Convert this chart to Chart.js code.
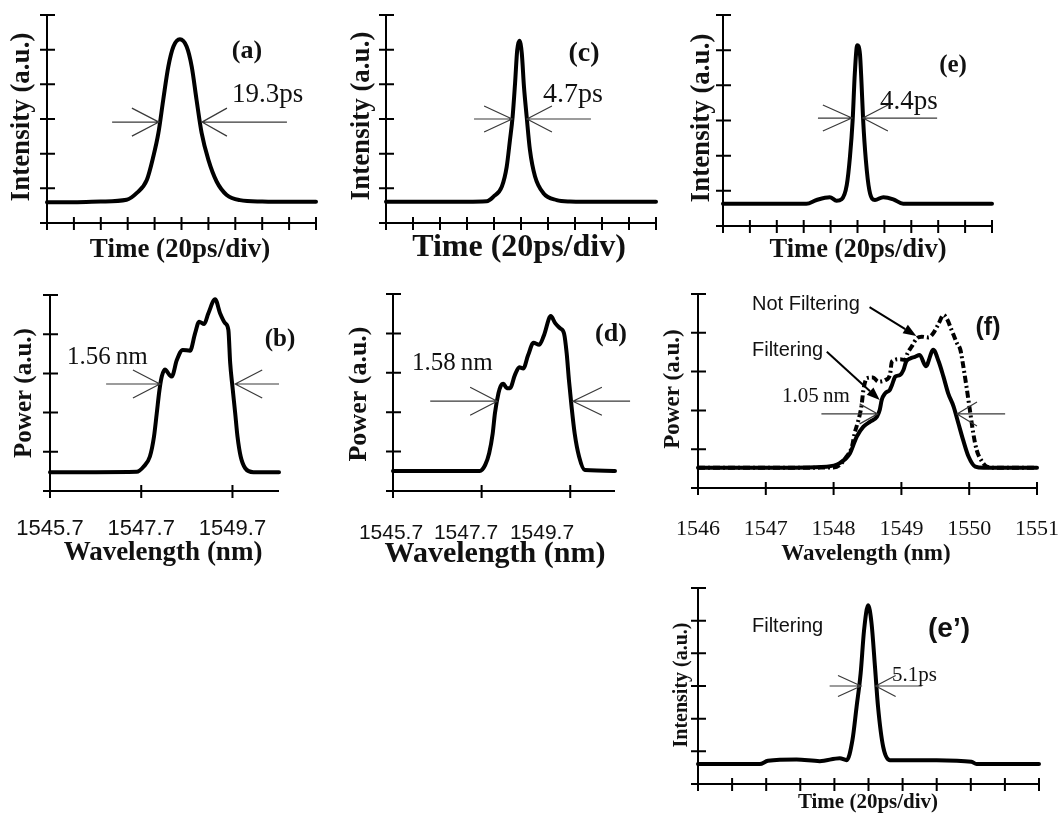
<!DOCTYPE html>
<html><head><meta charset="utf-8">
<script src="https://cdn.jsdelivr.net/npm/chart.js@4.4.1/dist/chart.umd.min.js"></script>
<style>
html,body{margin:0;padding:0;background:#fff;}
#fig{position:relative;width:1061px;height:813px;overflow:hidden;background:#fff;}
#fig canvas{position:absolute;left:0;top:0;}
</style></head><body><div id="fig"></div>
<script>
// ---------- DATA ----------
// time axes in divisions (20 ps/div), intensity in a.u.
const timeTicks = [0,1,2,3,4,5,6,7,8,9,10];
const intensityTicks = [0,1,2,3,4,5,6];
const powerTicks = [0,1,2,3,4,5];

const aTime = [0, 1, 2, 2.96, 3.33, 3.71, 3.95, 4.14, 4.32, 4.51, 4.7, 4.94, 5.19, 5.38, 5.56, 5.75, 6.0, 6.31, 6.68, 7.17, 8, 9, 10];
const aIntensity = [0.6, 0.6, 0.62, 0.67, 0.86, 1.24, 1.91, 2.59, 3.55, 4.51, 5.09, 5.3, 5.09, 4.51, 3.55, 2.59, 1.82, 1.19, 0.81, 0.66, 0.62, 0.61, 0.61];

const cTime = [0, 2, 3.73, 3.98, 4.29, 4.47, 4.59, 4.69, 4.78, 4.86, 4.94, 5.03, 5.11, 5.21, 5.33, 5.52, 5.83, 6.32, 6.81, 8, 10];
const cIntensity = [0.61, 0.61, 0.63, 0.76, 1.05, 1.62, 2.39, 3.07, 4.03, 4.99, 5.26, 4.89, 3.93, 3.07, 2.11, 1.34, 0.86, 0.66, 0.62, 0.61, 0.61];

const eTime = [0, 2, 3.1, 3.48, 3.97, 4.22, 4.41, 4.6, 4.72, 4.82, 4.9, 4.99, 5.09, 5.15, 5.21, 5.31, 5.44, 5.65, 5.96, 6.33, 6.7, 8, 10];
const eIntensity = [0.63, 0.63, 0.63, 0.74, 0.82, 0.72, 0.76, 1.16, 1.97, 3.01, 4.34, 5.14, 4.9, 4.05, 3.01, 1.88, 1.02, 0.74, 0.82, 0.76, 0.63, 0.63, 0.63];

const ePrimeTime = [0, 1.81, 2.05, 2.89, 3.57, 4.16, 4.36, 4.53, 4.65, 4.77, 4.87, 4.99, 5.09, 5.19, 5.28, 5.43, 5.63, 6.02, 7.0, 8.02, 8.17, 10];
const ePrimeIntensity = [0.61, 0.61, 0.71, 0.75, 0.70, 0.79, 0.73, 1.35, 2.36, 3.39, 4.71, 5.47, 4.91, 3.59, 2.36, 1.14, 0.73, 0.73, 0.73, 0.68, 0.61, 0.61];

// spectra, wavelength in nm
const bdTicks = [1545.7, 1547.7, 1549.7];
const bdTickLabels = ['1545.7', '1547.7', '1549.7'];
const fTicks = [1546, 1547, 1548, 1549, 1550, 1551];
const fTickLabels = ['1546', '1547', '1548', '1549', '1550', '1551'];

const bWavelength = [1545.7, 1546.7, 1547.6, 1547.75, 1547.89, 1547.98, 1548.04, 1548.1, 1548.15, 1548.22, 1548.32, 1548.37, 1548.48, 1548.61, 1548.77, 1548.88, 1548.97, 1549.08, 1549.17, 1549.32, 1549.43, 1549.54, 1549.61, 1549.65, 1549.7, 1549.76, 1549.81, 1549.88, 1549.98, 1550.16, 1550.72];
const bPower = [0.48, 0.48, 0.49, 0.62, 0.88, 1.39, 1.98, 2.58, 2.92, 3.1, 2.96, 2.92, 3.34, 3.6, 3.58, 4.02, 4.32, 4.26, 4.53, 4.89, 4.53, 4.28, 4.11, 3.26, 2.66, 1.98, 1.39, 0.88, 0.58, 0.48, 0.48];

const dWavelength = [1545.7, 1546.7, 1547.66, 1547.78, 1547.87, 1547.95, 1548.0, 1548.08, 1548.13, 1548.19, 1548.27, 1548.34, 1548.45, 1548.55, 1548.64, 1548.75, 1548.87, 1549.0, 1549.11, 1549.26, 1549.36, 1549.47, 1549.56, 1549.62, 1549.67, 1549.73, 1549.8, 1549.9, 1550.03, 1550.71];
const dPower = [0.51, 0.51, 0.51, 0.66, 0.96, 1.46, 1.97, 2.48, 2.66, 2.72, 2.61, 2.61, 2.94, 3.14, 3.11, 3.45, 3.76, 3.71, 3.96, 4.44, 4.26, 4.13, 4.0, 3.49, 2.82, 2.14, 1.46, 0.87, 0.53, 0.51];

const fWavelength = [1546, 1547, 1547.9, 1548.09, 1548.24, 1548.34, 1548.44, 1548.54, 1548.64, 1548.68, 1548.71, 1548.76, 1548.83, 1548.86, 1548.91, 1548.98, 1549.03, 1549.07, 1549.13, 1549.2, 1549.27, 1549.36, 1549.47, 1549.55, 1549.62, 1549.69, 1549.77, 1549.84, 1549.91, 1549.99, 1550.09, 1550.21, 1551];
const fFiltering = [0.52, 0.52, 0.55, 0.64, 0.89, 1.32, 1.58, 1.71, 1.84, 2.01, 2.27, 2.44, 2.53, 2.65, 2.87, 2.91, 3.04, 3.26, 3.34, 3.38, 3.43, 3.14, 3.56, 3.26, 2.87, 2.44, 2.1, 1.67, 1.24, 0.81, 0.55, 0.52, 0.52];

const fWavelengthNF = [1546, 1547, 1548.0, 1548.09, 1548.19, 1548.27, 1548.31, 1548.36, 1548.41, 1548.44, 1548.49, 1548.58, 1548.66, 1548.76, 1548.83, 1548.86, 1548.98, 1549.05, 1549.09, 1549.15, 1549.23, 1549.3, 1549.4, 1549.47, 1549.55, 1549.62, 1549.68, 1549.74, 1549.82, 1549.87, 1549.91, 1549.96, 1550.01, 1550.06, 1550.11, 1550.19, 1550.26, 1550.4, 1551];
const fNotFiltering = [0.52, 0.52, 0.53, 0.59, 0.81, 1.06, 1.41, 1.71, 2.1, 2.53, 2.83, 2.85, 2.74, 2.78, 2.91, 3.26, 3.32, 3.3, 3.47, 3.64, 3.86, 3.9, 3.88, 3.99, 4.24, 4.46, 4.33, 4.07, 3.73, 3.56, 3.17, 2.61, 2.01, 1.41, 0.98, 0.68, 0.55, 0.52, 0.52];

// ---------- LAYOUT / STYLE ----------
const SERIF = '"Liberation Serif","Times New Roman",Times,serif';
const SANS = '"Liberation Sans",Arial,Helvetica,sans-serif';
const W = 1061, H = 813;
const R = -Math.PI / 2;

const panels = [
  { id:'a', box:{l:47,r:316,t:15,b:223}, x:[0,10], y:[0,6], xTicks:timeTicks, yTicks:intensityTicks,
    series:[{x:aTime, y:aIntensity}],
    fwhm:{y:2.91, xl:4.16, xr:5.76, x0:2.42, x1:8.92, dl:[27,14], dr:[25,14]},
    texts:[
      {t:'(a)', x:247, y:51, f:'bold 26px '+SERIF},
      {t:'19.3ps', x:232, y:95, a:'left', f:'27px '+SERIF},
      {t:'Intensity (a.u.)', x:22, y:117, rot:R, f:'bold 27px '+SERIF},
      {t:'Time (20ps/div)', x:180, y:250, f:'bold 27px '+SERIF}
    ]},
  { id:'c', box:{l:386,r:656,t:15,b:223}, x:[0,10], y:[0,6], xTicks:timeTicks, yTicks:intensityTicks,
    series:[{x:cTime, y:cIntensity}],
    fwhm:{y:3.0, xl:4.67, xr:5.22, x0:3.26, x1:7.59, dl:[28,13], dr:[25,13]},
    texts:[
      {t:'(c)', x:584, y:54, f:'bold 28px '+SERIF},
      {t:'4.7ps', x:543, y:95, a:'left', f:'28px '+SERIF},
      {t:'Intensity (a.u.)', x:362, y:116, rot:R, f:'bold 27px '+SERIF},
      {t:'Time (20ps/div)', x:519, y:248, f:'bold 32px '+SERIF}
    ]},
  { id:'e', box:{l:723,r:992,t:15,b:226}, x:[0,10], y:[0,6], xTicks:timeTicks, yTicks:intensityTicks,
    series:[{x:eTime, y:eIntensity}],
    fwhm:{y:3.07, xl:4.79, xr:5.2, x0:3.53, x1:7.96, dl:[29,13], dr:[25,13]},
    texts:[
      {t:'(e)', x:953, y:66, f:'bold 25px '+SERIF},
      {t:'4.4ps', x:880, y:102, a:'left', f:'27px '+SERIF},
      {t:'Intensity (a.u.)', x:702, y:118, rot:R, f:'bold 27px '+SERIF},
      {t:'Time (20ps/div)', x:858, y:250, f:'bold 26.5px '+SERIF}
    ]},
  { id:'b', box:{l:50,r:279,t:295,b:491}, x:[1545.7,1550.72], y:[0,5], xTicks:bdTicks, yTicks:powerTicks,
    series:[{x:bWavelength, y:bPower}],
    tickLabels:{labels:bdTickLabels, y:529, f:'22px '+SANS},
    fwhm:{y:2.73, xl:1548.11, xr:1549.76, x0:1546.93, x1:1550.72, dl:[27,14], dr:[27,14]},
    texts:[
      {t:'(b)', x:280, y:340, f:'bold 25px '+SERIF},
      {t:'1.56\u2009nm', x:67, y:357, a:'left', f:'25px '+SERIF},
      {t:'Power (a.u.)', x:25, y:393, rot:R, f:'bold 25px '+SERIF},
      {t:'Wavelength (nm)', x:163, y:553, f:'bold 27px '+SERIF}
    ]},
  { id:'d', box:{l:393,r:615,t:294,b:491}, x:[1545.7,1550.71], y:[0,5], xTicks:bdTicks, yTicks:powerTicks,
    series:[{x:dWavelength, y:dPower}],
    tickLabels:{labels:bdTickLabels, px:[391,466,542], y:533, f:'21px '+SANS},
    fwhm:{y:2.28, xl:1548.05, xr:1549.76, x0:1546.54, x1:1551.05, dl:[27,14], dr:[29,14]},
    texts:[
      {t:'(d)', x:611, y:334, f:'bold 26px '+SERIF},
      {t:'1.58\u2009nm', x:412, y:363, a:'left', f:'25px '+SERIF},
      {t:'Power (a.u.)', x:359, y:394, rot:R, f:'bold 26px '+SERIF},
      {t:'Wavelength (nm)', x:495, y:554, f:'bold 30px '+SERIF}
    ]},
  { id:'f', box:{l:698,r:1037,t:294,b:488}, x:[1546,1551], y:[0,5], xTicks:fTicks, yTicks:powerTicks,
    series:[{x:fWavelengthNF, y:fNotFiltering, dash:[7,3,2,3]}, {x:fWavelength, y:fFiltering}],
    tickLabels:{labels:fTickLabels, y:529, f:'22px '+SERIF},
    fwhm:{y:1.91, xl:1548.65, xr:1549.82, x0:1547.82, x1:1550.53, dl:[18,10], dr:[20,12]},
    arrows:[
      {from:[1548.53,4.66], to:[1549.22,3.92]},
      {from:[1547.9,3.51], to:[1548.68,2.27]}
    ],
    texts:[
      {t:'(f)', x:988, y:328, f:'bold 25px '+SANS},
      {t:'Not Filtering', x:752, y:304, a:'left', f:'20px '+SANS},
      {t:'Filtering', x:752, y:350, a:'left', f:'20px '+SANS},
      {t:'1.05\u2009nm', x:782, y:396, a:'left', f:'21px '+SERIF},
      {t:'Power (a.u.)', x:673, y:389, rot:R, f:'bold 23px '+SERIF},
      {t:'Wavelength (nm)', x:866, y:554, f:'bold 23px '+SERIF}
    ]},
  { id:'ep', box:{l:698,r:1039,t:588,b:784}, x:[0,10], y:[0,6], xTicks:timeTicks, yTicks:intensityTicks,
    series:[{x:ePrimeTime, y:ePrimeIntensity}],
    fwhm:{y:3.0, xl:4.78, xr:5.21, x0:3.86, x1:6.56, dl:[23,10.5], dr:[20,10.5]},
    texts:[
      {t:'(e\u2019)', x:928, y:629, a:'left', f:'bold 28px '+SANS},
      {t:'Filtering', x:752, y:626, a:'left', f:'20px '+SANS},
      {t:'5.1ps', x:892, y:675, a:'left', f:'21px '+SERIF},
      {t:'Intensity (a.u.)', x:682, y:685, rot:R, f:'bold 20px '+SERIF},
      {t:'Time (20ps/div)', x:868, y:803, f:'bold 21px '+SERIF}
    ]}
];

function drawText(ctx, s) {
  ctx.save();
  ctx.font = s.f;
  ctx.fillStyle = '#111';
  ctx.textAlign = s.a || 'center';
  ctx.textBaseline = 'middle';
  ctx.translate(s.x, s.y);
  if (s.rot) ctx.rotate(s.rot);
  ctx.fillText(s.t, 0, 0);
  ctx.restore();
}

function makePlugin(p) {
  return {
    id: 'fig_' + p.id,
    beforeDatasetsDraw(chart) {
      const ctx = chart.ctx, a = chart.chartArea;
      const sx = chart.scales.x, sy = chart.scales.y;
      ctx.save();
      ctx.strokeStyle = '#000';
      ctx.lineWidth = 2;
      ctx.lineCap = 'butt';
      ctx.beginPath();
      ctx.moveTo(a.left, a.top); ctx.lineTo(a.left, a.bottom);
      ctx.moveTo(a.left, a.bottom); ctx.lineTo(a.right, a.bottom);
      p.xTicks.forEach(v => {
        const px = sx.getPixelForValue(v);
        ctx.moveTo(px, a.bottom - 6); ctx.lineTo(px, a.bottom + 7);
      });
      p.yTicks.forEach(v => {
        const py = sy.getPixelForValue(v);
        ctx.moveTo(a.left - 7, py); ctx.lineTo(a.left + 8, py);
      });
      ctx.stroke();
      ctx.restore();
    },
    afterDatasetsDraw(chart) {
      const ctx = chart.ctx;
      const sx = chart.scales.x, sy = chart.scales.y;
      const X = v => sx.getPixelForValue(v), Y = v => sy.getPixelForValue(v);
      // FWHM arrows
      if (p.fwhm) {
        const w = p.fwhm, yy = Y(w.y), L = X(w.xl), Rr = X(w.xr);
        ctx.save();
        ctx.strokeStyle = '#3a3a3a';
        ctx.lineWidth = 1.2;
        ctx.beginPath();
        ctx.moveTo(X(w.x0), yy); ctx.lineTo(L, yy);
        ctx.moveTo(L - w.dl[0], yy - w.dl[1]); ctx.lineTo(L, yy); ctx.lineTo(L - w.dl[0], yy + w.dl[1]);
        ctx.moveTo(Rr, yy); ctx.lineTo(X(w.x1), yy);
        ctx.moveTo(Rr + w.dr[0], yy - w.dr[1]); ctx.lineTo(Rr, yy); ctx.lineTo(Rr + w.dr[0], yy + w.dr[1]);
        ctx.stroke();
        ctx.restore();
      }
      // pointer arrows
      (p.arrows || []).forEach(ar => {
        const x1 = X(ar.from[0]), y1 = Y(ar.from[1]), x2 = X(ar.to[0]), y2 = Y(ar.to[1]);
        const ang = Math.atan2(y2 - y1, x2 - x1), hl = 13, hw = 5;
        ctx.save();
        ctx.strokeStyle = '#000'; ctx.fillStyle = '#000'; ctx.lineWidth = 2;
        ctx.beginPath();
        ctx.moveTo(x1, y1);
        ctx.lineTo(x2 - hl * Math.cos(ang), y2 - hl * Math.sin(ang));
        ctx.stroke();
        ctx.beginPath();
        ctx.moveTo(x2, y2);
        ctx.lineTo(x2 - hl * Math.cos(ang) + hw * Math.sin(ang), y2 - hl * Math.sin(ang) - hw * Math.cos(ang));
        ctx.lineTo(x2 - hl * Math.cos(ang) - hw * Math.sin(ang), y2 - hl * Math.sin(ang) + hw * Math.cos(ang));
        ctx.closePath();
        ctx.fill();
        ctx.restore();
      });
      // tick labels
      if (p.tickLabels) {
        const tl = p.tickLabels;
        p.xTicks.forEach((v, i) => {
          const px = tl.px ? tl.px[i] : X(v);
          drawText(ctx, {t: tl.labels[i], x: px, y: tl.y, f: tl.f});
        });
      }
      p.texts.forEach(s => drawText(ctx, s));
    }
  };
}

const fig = document.getElementById('fig');
panels.forEach(p => {
  const cv = document.createElement('canvas');
  cv.width = W; cv.height = H;
  cv.style.width = W + 'px'; cv.style.height = H + 'px';
  fig.appendChild(cv);
  new Chart(cv, {
    type: 'line',
    data: {
      datasets: p.series.map(s => ({
        data: s.x.map((xv, i) => ({x: xv, y: s.y[i]})),
        borderColor: '#000',
        borderWidth: 4,
        borderDash: s.dash || [],
        borderCapStyle: s.dash ? 'butt' : 'round',
        borderJoinStyle: 'round',
        pointRadius: 0,
        fill: false,
        cubicInterpolationMode: 'monotone',
        clip: false
      }))
    },
    options: {
      responsive: false,
      animation: false,
      devicePixelRatio: 1,
      events: [],
      layout: { padding: { left: p.box.l, right: W - p.box.r, top: p.box.t, bottom: H - p.box.b } },
      scales: {
        x: { type: 'linear', min: p.x[0], max: p.x[1], display: false },
        y: { type: 'linear', min: p.y[0], max: p.y[1], display: false }
      },
      plugins: { legend: { display: false }, tooltip: { enabled: false }, title: { display: false } }
    },
    plugins: [makePlugin(p)]
  });
});
</script>
</body></html>
